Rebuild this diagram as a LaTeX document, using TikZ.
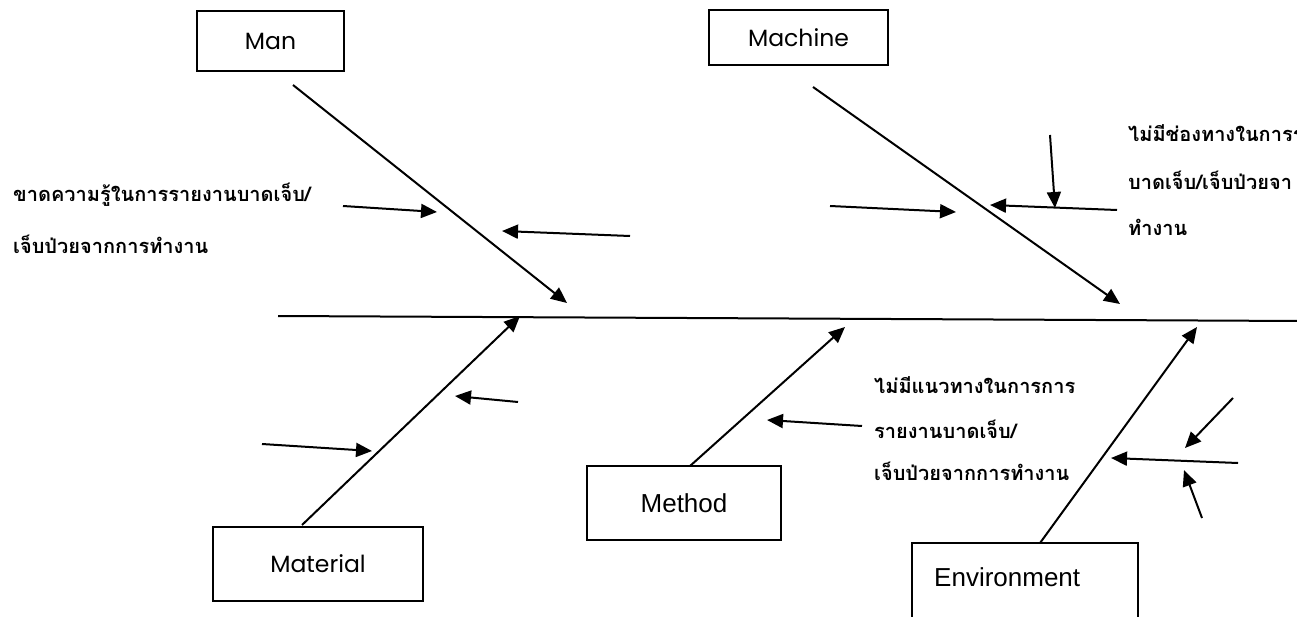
\documentclass[tikz,border=0pt]{standalone}
\usepackage{fontspec}
\setmainfont{Liberation Sans}
\newfontfamily\thaifont[Script=Thai]{Loma}
\newfontfamily\popfont{Poppins}
\usetikzlibrary{arrows.meta}
\tikzset{
  bx/.style={draw, line width=2pt, minimum width=#1, inner sep=0pt},
  bone/.style={line width=2pt, -{Triangle[length=16pt,width=14pt]}},
  twig/.style={line width=2pt, -{Triangle[length=16pt,width=14pt]}},
  thai/.style={anchor=west, inner sep=0pt, font=\thaifont\bfseries\fontsize{20}{24}\selectfont},
  lab/.style={font=\popfont\fontsize{23.5}{28}\selectfont},
  lab2/.style={font=\fontsize{26}{30}\selectfont},
}
\begin{document}
\begin{tikzpicture}[x=1pt,y=-1pt]
\useasboundingbox (0,0) rectangle (1297,617);
% boxes
\node[bx=147pt, minimum height=60pt, lab] (man) at (270.5,41) {Man};
\node[bx=179pt, minimum height=55pt, lab] (machine) at (798.5,38) {Machine};
\node[bx=210pt, minimum height=74pt, lab] (material) at (318,564) {Material};
\node[bx=194pt, minimum height=74pt, lab2] (method) at (684,503) {Method};
\node[bx=226pt, minimum height=79pt] (envbox) at (1025,582.5) {};
\node[lab2, anchor=west, inner sep=0pt] (envlab) at (934,577) {Environment};
% spine
\coordinate (sp0) at (278,316);
\coordinate (sp1) at (1300,321);
\draw[line width=2pt] (sp0) -- (sp1);
% bones
\coordinate (manA) at (293,85);   \coordinate (manB) at (567,303);
\coordinate (macA) at (813,87);   \coordinate (macB) at (1120,304);
\coordinate (matA) at (302,525);  \coordinate (matB) at (520,316);
\coordinate (metA) at (690,466);  \coordinate (metB) at (845,327);
\coordinate (envA) at (1040,543); \coordinate (envB) at (1197,327);
\draw[bone] (manA) -- (manB);
\draw[bone] (macA) -- (macB);
\draw[bone] (matA) -- (matB);
\draw[bone] (metA) -- (metB);
\draw[bone] (envA) -- (envB);
% twigs
\coordinate (t1a) at (343,206);  \coordinate (t1b) at (437,212);
\coordinate (t2a) at (630,236);  \coordinate (t2b) at (502,231);
\coordinate (t3a) at (830,206);  \coordinate (t3b) at (956,212);
\coordinate (t4a) at (1117,210); \coordinate (t4b) at (990,205);
\coordinate (t5a) at (1050,135); \coordinate (t5b) at (1055,208);
\coordinate (t6a) at (518,402);  \coordinate (t6b) at (455,396);
\coordinate (t7a) at (262,444);  \coordinate (t7b) at (372,451);
\coordinate (t8a) at (862,426);  \coordinate (t8b) at (767,420);
\coordinate (t9a) at (1238,463); \coordinate (t9b) at (1111,458);
\coordinate (t10a) at (1233,398); \coordinate (t10b) at (1185,448);
\coordinate (t11a) at (1202,518); \coordinate (t11b) at (1184,470);
\foreach \i in {1,...,11} {\draw[twig] (t\i a) -- (t\i b);}
% texts
\node[thai] (l1) at (13,195) {ขาดความรู้ในการรายงานบาดเจ็บ/};
\node[thai] (l2) at (13,244) {เจ็บป่วยจากการทำงาน};
\node[thai] (r1) at (1128,133) {ไม่มีช่องทางในการร};
\node[thai] (r2) at (1128,180) {บาดเจ็บ/เจ็บป่วยจา};
\node[thai] (r3) at (1128,227) {ทำงาน};
\node[thai] (m1) at (874,385) {ไม่มีแนวทางในการการ};
\node[thai] (m2) at (874,429) {รายงานบาดเจ็บ/};
\node[thai] (m3) at (874,471) {เจ็บป่วยจากการทำงาน};
\end{tikzpicture}
\end{document}
